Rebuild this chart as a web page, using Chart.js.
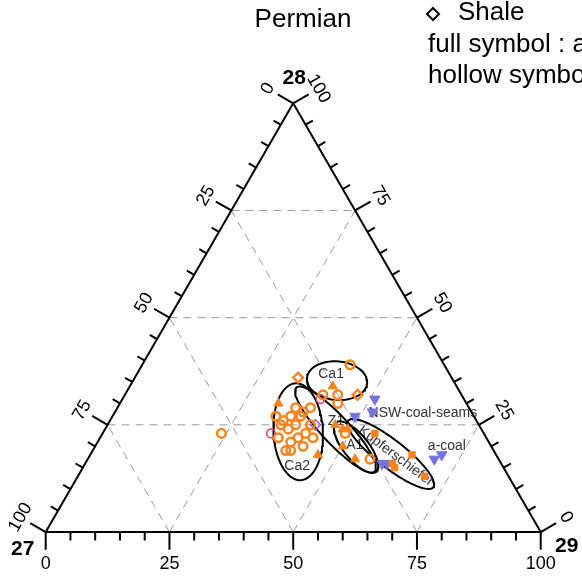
<!DOCTYPE html>
<html>
<head>
<meta charset="utf-8">
<script src="https://cdn.jsdelivr.net/npm/chart.js@4/dist/chart.umd.min.js"></script>
<style>body{margin:0;background:#fff}</style>
</head>
<body>
<canvas id="chart-tern" width="582" height="579"></canvas>
<script>
// every sample is [27, 28, 29] in percent
var orangeCircles = [[19,39,42],[28,32,40],[25,32,43],[26,30,44],[35,29,36],[32,29,39],[37,27,36],[35,27,38],
  [37,25,38],[39,24,37],[38,22,40],[36,23,41],[35,22,43],[42,22,36],[42,19,39],[41,19,40],[38,20,42],
  [53,23,24],[28,23,49],[26,17,57],[39,26,35],[33,28,38],[40,25,35],[34,25,41],[40,21,39],[39,27,33]];
var orangeTriangles = [[25,34,41],[38,30,32],[36,18,46],[29,25,46],[28,24,48],[26,24,49],[31,20,50],[29,17,54]];
var orangeDiamonds = [[31,36,33],[21,32,47]];
var orangeSquares = [[22,23,55],[22,16,62],[22,15,63],[17,18,65],[17,13,70]];
var pinkCircles = [[30,31,40],[43,23,34]];
var pinkDiamonds = [[32,25,42]];
var blueTriangles = [[18,31,51],[23,27,49],[20,28,52],[24,16,60],[23,16,61],[12,17,70],[11,18,71]];

var gridValues = [25, 50, 75];
var tickLabels = ["0", "25", "50", "75", "100"];
var vertexNames = ["27", "28", "29"];

var ellipseNames = ["Ca1", "Ca2", "Z1", "A1", "Kupferschiefer"];
var ellipseCenters = [[23.5,35.3,41.2],[37.3,23.4,39.3],[29.5,23.9,46.6],[27.4,19.8,52.8],[21.2,18.2,60.6]];
var ellipseAxisA = [6.1, 9.8, 11.6, 6.4, 10.9];
var ellipseAxisB = [3.9, 5.0, 2.8, 2.5, 2.8];
var ellipseAngle = [-5, 93, -47, -51, -38];

var groupLabels = ["Ca1", "Ca2", "Z1", "A1", "Kupferschiefer", "NSW-coal-seams", "a-coal"];
var groupLabelPos = [[23.9,36.9,39.2],[41.5,15.4,43.1],[28.4,25.9,45.7],[27.4,20.3,52.3],[20.4,17.7,61.9],[9.9,27.8,62.3],[8.9,20.1,71.0]];
var groupLabelRot = [0, 0, 0, 0, 37, 0, 0];

var ORANGE = "#f7841f", BLUE = "#7474e0", PINK = "#e8396e";
var S3 = Math.sqrt(3) / 2;

function tern(p) {
  return { x: p[2] + p[1] / 2, y: p[1] * S3 };
}

function ellipse(i) {
  var c = tern(ellipseCenters[i]);
  var th = ellipseAngle[i] * Math.PI / 180;
  var pts = [];
  for (var k = 0; k <= 96; k++) {
    var t = k / 96 * Math.PI * 2;
    var ca = ellipseAxisA[i] * Math.cos(t), cb = ellipseAxisB[i] * Math.sin(t);
    pts.push({ x: c.x + ca * Math.cos(th) - cb * Math.sin(th), y: c.y + ca * Math.sin(th) + cb * Math.cos(th) });
  }
  return pts;
}

var datasets = [];
function markers(arr, style, color, fill, radius, bw, rot) {
  datasets.push({
    data: arr.map(tern),
    pointStyle: style,
    pointRadius: radius,
    borderWidth: bw,
    borderColor: color,
    backgroundColor: fill,
    rotation: rot || 0,
    order: 0
  });
}
markers(orangeCircles, "circle", ORANGE, "rgba(0,0,0,0)", 4.3, 2.5);
markers(orangeTriangles, "triangle", ORANGE, ORANGE, 5.3, 1);
markers(orangeDiamonds, "rectRot", ORANGE, "rgba(0,0,0,0)", 5, 2.3);
markers(orangeSquares, "rect", ORANGE, ORANGE, 4.5, 1);
markers(pinkCircles, "circle", PINK, "rgba(0,0,0,0)", 4.3, 1.5);
markers(pinkDiamonds, "rectRot", "#b84fc8", "rgba(0,0,0,0)", 5, 1.5);
markers(blueTriangles, "triangle", BLUE, BLUE, 6, 1, 180);

function lineSet(pts, color, width, dash, order) {
  datasets.push({
    data: pts,
    showLine: true,
    pointRadius: 0,
    borderColor: color,
    borderWidth: width,
    borderDash: dash,
    tension: 0,
    fill: false,
    spanGaps: false,
    order: order
  });
}

for (var e = 0; e < ellipseNames.length; e++) lineSet(ellipse(e), "#000", 2, [], 1);

// triangle frame
lineSet([[100,0,0],[0,100,0],[0,0,100],[100,0,0]].map(tern), "#000", 2, [], 2);

// ticks, every 5 percent, pointing outwards
var ticks = [];
for (var k = 0; k <= 100; k += 5) {
  var len = k % 25 === 0 ? 3.6 : 1.7;
  var b = tern([100 - k, 0, k]);
  ticks.push(b, { x: b.x, y: b.y - len }, { x: null, y: null });
  var l = tern([k, 100 - k, 0]);
  ticks.push(l, { x: l.x - len * S3, y: l.y + len * 0.5 }, { x: null, y: null });
  var r = tern([0, k, 100 - k]);
  ticks.push(r, { x: r.x + len * S3, y: r.y + len * 0.5 }, { x: null, y: null });
}
lineSet(ticks, "#000", 2, [], 2);

// dashed grid
gridValues.forEach(function (v) {
  lineSet([tern([100 - v, v, 0]), tern([0, v, 100 - v])], "#9a9a9a", 1, [8, 6], 3);
  lineSet([tern([100 - v, 0, v]), tern([0, 100 - v, v])], "#9a9a9a", 1, [8, 6], 3);
  lineSet([tern([v, 0, 100 - v]), tern([v, 100 - v, 0])], "#9a9a9a", 1, [8, 6], 3);
});

function put(ctx, str, x, y, rot, font, color, align) {
  ctx.save();
  ctx.translate(x, y);
  ctx.rotate(rot * Math.PI / 180);
  ctx.font = font;
  ctx.fillStyle = color;
  ctx.textAlign = align || "center";
  ctx.textBaseline = "middle";
  ctx.fillText(str, 0, 0);
  ctx.restore();
}

var ternText = {
  id: "ternText",
  beforeDatasetsDraw: function (chart) {
    var ctx = chart.ctx, xs = chart.scales.x, ys = chart.scales.y;
    groupLabels.forEach(function (s, i) {
      var p = tern(groupLabelPos[i]);
      put(ctx, s, xs.getPixelForValue(p.x), ys.getPixelForValue(p.y), groupLabelRot[i], "14px 'Liberation Sans'", "#333");
    });
  },
  afterDraw: function (chart) {
    var ctx = chart.ctx, xs = chart.scales.x, ys = chart.scales.y;
    function px(p) { return [xs.getPixelForValue(p.x), ys.getPixelForValue(p.y)]; }
    var f = "18px 'Liberation Sans'";
    tickLabels.forEach(function (s) {
      var v = +s;
      var b = tern([100 - v, 0, v]);
      var pb = px({ x: b.x, y: b.y - 6.5 });
      put(ctx, s, pb[0], pb[1], 0, f, "#000");
      var l = tern([v, 100 - v, 0]);
      var pl = px({ x: l.x - 5.9 * S3, y: l.y + 5.9 * 0.5 });
      put(ctx, s, pl[0], pl[1], -60, f, "#000");
      var r = tern([0, v, 100 - v]);
      var pr = px({ x: r.x + 5.9 * S3, y: r.y + 5.9 * 0.5 });
      put(ctx, s, pr[0], pr[1], 60, f, "#000");
    });
    var fb = "bold 21px 'Liberation Sans'";
    var v27 = px(tern([100, 0, 0])), v28 = px(tern([0, 100, 0])), v29 = px(tern([0, 0, 100]));
    put(ctx, vertexNames[0], v27[0] - 23, v27[1] + 17, 0, fb, "#000");
    put(ctx, vertexNames[1], v28[0] + 1, v28[1] - 25, 0, fb, "#000");
    put(ctx, vertexNames[2], v29[0] + 26, v29[1] + 14, 0, fb, "#000");

    put(ctx, "Permian", 303, 20, 0, "26px 'Liberation Sans'", "#000");
    // legend
    ctx.save();
    ctx.strokeStyle = "#000";
    ctx.lineWidth = 2;
    ctx.beginPath();
    ctx.moveTo(433, 8); ctx.lineTo(439, 14); ctx.lineTo(433, 20); ctx.lineTo(427, 14); ctx.closePath();
    ctx.stroke();
    ctx.restore();
    put(ctx, "Shale", 458, 13, 0, "26px 'Liberation Sans'", "#000", "left");
    put(ctx, "full symbol : anoxic", 428, 45, 0, "26px 'Liberation Sans'", "#000", "left");
    put(ctx, "hollow symbol : oxic", 428, 76, 0, "26px 'Liberation Sans'", "#000", "left");
  }
};

new Chart(document.getElementById("chart-tern").getContext("2d"), {
  type: "scatter",
  data: { datasets: datasets },
  options: {
    responsive: false,
    animation: false,
    layout: { padding: 0, autoPadding: false },
    plugins: { legend: { display: false }, tooltip: { enabled: false } },
    scales: {
      x: { type: "linear", min: -9.23, max: 108.34, display: false },
      y: { type: "linear", min: -9.49, max: 107.47, display: false }
    }
  },
  plugins: [ternText]
});
</script>
</body>
</html>
